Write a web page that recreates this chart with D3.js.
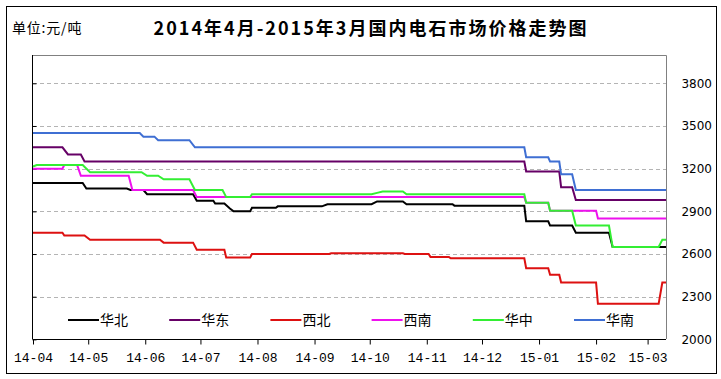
<!DOCTYPE html>
<html>
<head>
<meta charset="utf-8">
<script src="https://cdn.jsdelivr.net/npm/d3@7"></script>
<style>
  body { margin: 0; background: #fff; }
  svg { display: block; }
</style>
</head>
<body>
<svg width="721" height="379"></svg>
<script>
// month labels on the x axis
const months = ["14-04", "14-05", "14-06", "14-07", "14-08", "14-09", "14-10", "14-11", "14-12", "15-01", "15-02", "15-03"];
const yTicks = [2000, 2300, 2600, 2900, 3200, 3500, 3800];
const names = ["华北", "华东", "西北", "西南", "华中", "华南"];
const colors = ["#000000", "#660066", "#dd1111", "#ee11ee", "#33ee33", "#3f6fd3"];

// price points [date, 元/吨]
const huabei = [["2014-04-01",3100],["2014-04-28",3100],["2014-04-30",3060],["2014-05-22",3060],["2014-05-24",3050],["2014-05-31",3050],["2014-06-02",3020],["2014-06-27",3020],["2014-06-29",2975],["2014-07-08",2975],["2014-07-09",2955],["2014-07-14",2955],["2014-07-17",2920],["2014-07-19",2900],["2014-07-28",2900],["2014-07-29",2925],["2014-08-11",2925],["2014-08-12",2935],["2014-09-05",2935],["2014-09-08",2950],["2014-10-02",2950],["2014-10-05",2970],["2014-10-19",2970],["2014-10-21",2950],["2014-11-15",2950],["2014-11-16",2940],["2014-12-24",2940],["2014-12-25",2830],["2015-01-06",2830],["2015-01-07",2800],["2015-01-19",2800],["2015-01-21",2750],["2015-02-08",2750],["2015-02-10",2650],["2015-03-11",2650]];
const huadong = [["2014-04-01",3350],["2014-04-17",3350],["2014-04-20",3300],["2014-04-27",3300],["2014-04-29",3250],["2014-12-24",3250],["2014-12-25",3180],["2015-01-12",3180],["2015-01-13",3070],["2015-01-19",3070],["2015-01-21",2980],["2015-03-11",2980]];
const xibei = [["2014-04-01",2750],["2014-04-17",2750],["2014-04-18",2730],["2014-04-29",2730],["2014-05-02",2700],["2014-06-09",2700],["2014-06-11",2680],["2014-06-27",2680],["2014-06-29",2630],["2014-07-14",2630],["2014-07-15",2575],["2014-07-28",2575],["2014-07-29",2600],["2014-09-09",2600],["2014-09-10",2605],["2014-10-19",2605],["2014-10-20",2600],["2014-11-02",2600],["2014-11-03",2580],["2014-11-13",2580],["2014-11-14",2570],["2014-12-24",2570],["2014-12-25",2500],["2015-01-06",2500],["2015-01-07",2455],["2015-01-12",2455],["2015-01-13",2400],["2015-02-01",2400],["2015-02-02",2250],["2015-03-07",2250],["2015-03-09",2400],["2015-03-11",2400]];
const xinan = [["2014-04-01",3200],["2014-04-17",3200],["2014-04-18",3225],["2014-04-25",3225],["2014-04-27",3150],["2014-05-23",3150],["2014-05-25",3050],["2014-06-27",3050],["2014-06-29",3000],["2014-12-24",3000],["2014-12-25",2960],["2015-01-06",2960],["2015-01-07",2905],["2015-02-01",2905],["2015-02-02",2850],["2015-03-11",2850]];
const huazhong = [["2014-04-01",3215],["2014-04-03",3225],["2014-04-28",3225],["2014-05-02",3175],["2014-05-30",3175],["2014-06-02",3150],["2014-06-08",3150],["2014-06-11",3125],["2014-06-25",3125],["2014-06-28",3050],["2014-07-13",3050],["2014-07-15",3000],["2014-07-28",3000],["2014-07-29",3020],["2014-10-02",3020],["2014-10-05",3030],["2014-10-08",3040],["2014-10-19",3040],["2014-10-21",3020],["2014-12-24",3020],["2014-12-25",2960],["2015-01-06",2960],["2015-01-07",2905],["2015-01-19",2905],["2015-01-21",2800],["2015-02-08",2800],["2015-02-10",2650],["2015-03-07",2650],["2015-03-09",2700],["2015-03-11",2700]];
const huanan = [["2014-04-01",3450],["2014-05-29",3450],["2014-05-31",3425],["2014-06-06",3425],["2014-06-08",3400],["2014-06-25",3400],["2014-06-28",3350],["2014-12-24",3350],["2014-12-25",3280],["2015-01-06",3280],["2015-01-07",3250],["2015-01-12",3250],["2015-01-13",3160],["2015-01-19",3160],["2015-01-21",3050],["2015-03-11",3050]];

const series = [huabei, huadong, xibei, xinan, huazhong, huanan];

const parseDay = d3.timeParse("%Y-%m-%d");
const parseMonth = d3.timeParse("%y-%m");

const svg = d3.select("svg");

const plotLeft = 33, plotRight = 666, plotTop = 55, plotBottom = 339.4;

const x = d3.scaleTime()
  .domain([parseDay("2014-04-01"), parseDay("2015-03-11")])
  .range([plotLeft, plotRight]);

const y = d3.scaleLinear()
  .domain([2000, 3800])
  .range([plotBottom, 83.3]);

// outer frame
svg.append("rect")
  .attr("x", 6.5).attr("y", 6.5)
  .attr("width", 710).attr("height", 367)
  .attr("fill", "#fff")
  .attr("stroke", "#000");

svg.append("text")
  .attr("x", 12).attr("y", 33)
  .attr("font-family", "Noto Sans CJK SC")
  .attr("font-size", 14)
  .attr("letter-spacing", 0.8)
  .text("单位:元/吨");

svg.append("text")
  .attr("x", 371).attr("y", 35)
  .attr("text-anchor", "middle")
  .attr("font-family", "Noto Sans CJK SC")
  .attr("font-weight", "bold")
  .attr("font-size", 18)
  .attr("letter-spacing", 2)
  .text("2014年4月-2015年3月国内电石市场价格走势图");

// gridlines
svg.append("g")
  .selectAll("line")
  .data(yTicks.filter(d => d > 2000))
  .enter()
  .append("line")
  .attr("x1", plotLeft).attr("x2", plotRight)
  .attr("y1", d => Math.round(y(d)) + 0.5)
  .attr("y2", d => Math.round(y(d)) + 0.5)
  .attr("stroke", "#b4b4b4")
  .attr("stroke-dasharray", "4,3");

// top and right border of plot
svg.append("path")
  .attr("d", `M${plotLeft},${plotTop + 0.5}H${plotRight + 0.5}V${Math.round(plotBottom)}`)
  .attr("fill", "none")
  .attr("stroke", "#808080");

// left axis with inward ticks
const yAxis = svg.append("g")
  .attr("transform", `translate(${plotLeft - 0.5},0)`)
  .call(d3.axisRight(y).tickValues(yTicks).tickSize(4).tickSizeOuter(0).tickFormat(""));
yAxis.select(".domain").attr("d", `M0,${plotTop}V${Math.round(plotBottom) + 0.5}`);

// y labels on the right
svg.append("g")
  .selectAll("text")
  .data(yTicks)
  .enter()
  .append("text")
  .attr("x", 712)
  .attr("y", d => y(d))
  .attr("dy", "0.36em")
  .attr("text-anchor", "end")
  .attr("font-family", "DejaVu Sans")
  .attr("font-size", 12)
  .text(d => d);

// bottom axis
const xAxis = svg.append("g")
  .attr("transform", `translate(0,${Math.round(plotBottom) + 0.5})`)
  .call(d3.axisBottom(x)
    .tickValues(months.map(parseMonth))
    .tickSize(5)
    .tickSizeOuter(0)
    .tickFormat(d3.timeFormat("%y-%m")));
xAxis.select(".domain").attr("d", `M${plotLeft},0H${plotRight}`);
xAxis.selectAll(".tick text")
  .attr("y", 13)
  .attr("font-family", "Liberation Mono")
  .attr("font-size", 13)
  .attr("fill", "#000");

// price lines
const line = d3.line()
  .x(d => x(parseDay(d[0])))
  .y(d => y(d[1]));

svg.append("g")
  .selectAll("path")
  .data(series)
  .enter()
  .append("path")
  .attr("d", line)
  .attr("fill", "none")
  .attr("stroke", (d, i) => colors[i])
  .attr("stroke-width", 2);

// legend
const legend = svg.append("g")
  .selectAll("g")
  .data(names)
  .enter()
  .append("g")
  .attr("transform", (d, i) => `translate(${68 + i * 101.2},320)`);

legend.append("line")
  .attr("x1", 0).attr("x2", 31)
  .attr("stroke", (d, i) => colors[i])
  .attr("stroke-width", 2);

legend.append("text")
  .attr("x", 32)
  .attr("dy", "0.35em")
  .attr("font-family", "Noto Sans CJK SC")
  .attr("font-size", 14)
  .text(d => d);
</script>
</body>
</html>
